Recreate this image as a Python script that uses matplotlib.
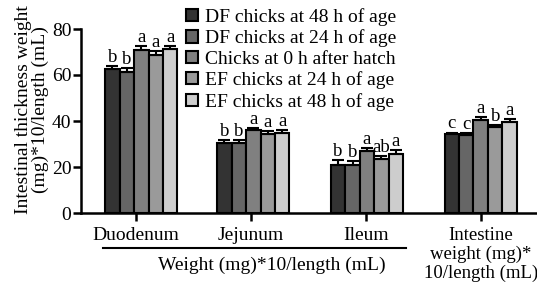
import matplotlib
matplotlib.use("Agg")
import matplotlib.pyplot as plt
import matplotlib.transforms as mtransforms
import numpy as np

plt.rcParams['font.family'] = ['Liberation Serif', 'DejaVu Serif']
plt.rcParams['font.size'] = 14

# data
groups = ['Duodenum', 'Jejunum', 'Ileum', 'Intestine\nweight (mg)*\n10/length (mL)']
series = ['DF chicks at 48 h of age', 'DF chicks at 24 h of age',
          'Chicks at 0 h after hatch', 'EF chicks at 24 h of age',
          'EF chicks at 48 h of age']
df48 = [62.7, 30.6, 21.0, 34.2]
df24 = [61.5, 30.6, 21.0, 34.0]
h0 = [71.0, 36.0, 26.8, 40.6]
ef24 = [68.8, 34.3, 23.5, 37.4]
ef48 = [71.2, 35.0, 25.8, 39.5]
err_df48 = [1.0, 1.3, 2.0, 0.8]
err_df24 = [1.5, 1.3, 1.8, 0.8]
err_h0 = [1.8, 1.0, 1.3, 1.0]
err_ef24 = [1.5, 1.5, 1.5, 1.0]
err_ef48 = [1.5, 1.2, 1.5, 1.5]
letters_df48 = ['b', 'b', 'b', 'c']
letters_df24 = ['b', 'b', 'b', 'c']
letters_h0 = ['a', 'a', 'a', 'a']
letters_ef24 = ['a', 'a', 'ab', 'b']
letters_ef48 = ['a', 'a', 'a', 'a']
bracket_label = 'Weight (mg)*10/length (mL)'
ylabel = 'Intestinal thickness weight\n(mg)*10/length (mL)'

values = [df48, df24, h0, ef24, ef48]
errors = [err_df48, err_df24, err_h0, err_ef24, err_ef48]
letters = [letters_df48, letters_df24, letters_h0, letters_ef24, letters_ef48]
colors = ['#333333', '#666666', '#808080', '#9a9a9a', '#cdcdcd']

fig = plt.figure(figsize=(5.37, 2.85), dpi=100)
ax = fig.add_axes([81 / 537, 1 - 213 / 285, 1 - 81 / 537, (213 - 29) / 285])

x = np.arange(len(groups))
shift = np.array([0.045, 0.02, 0.01, 0.0])
w = 0.126
for i in range(5):
    pos = x + shift + (i - 2) * w
    ax.bar(pos, values[i], w, color=colors[i], edgecolor='black', linewidth=1.5,
           label=series[i], zorder=2)
    ax.errorbar(pos, values[i], yerr=[np.zeros(4), errors[i]], fmt='none',
                ecolor='black', elinewidth=1.5, capsize=4, capthick=1.5, zorder=3)
    for p, v, e, t in zip(pos, values[i], errors[i], letters[i]):
        ax.text(p, v + e, t, ha='center', va='bottom', fontsize=13.5)

ax.set_ylim(0, 80)
ax.set_yticks([0, 20, 40, 60, 80])
ax.set_xlim(-0.48, 3.49)
ax.set_xticks(x)
ax.set_xticklabels(groups, linespacing=1.12)
ax.get_xticklabels()[-1].set_fontsize(13.5)
for s in ['top', 'right']:
    ax.spines[s].set_visible(False)
for s in ['left', 'bottom']:
    ax.spines[s].set_linewidth(1.8)
ax.tick_params(axis='both', width=1.8, length=6, pad=1)
ax.tick_params(axis='x', pad=4)
ax.set_ylabel(ylabel, linespacing=1.0)
ax.yaxis.set_label_coords(-0.07, 0.56)

# bracket under the first three groups
trans = mtransforms.blended_transform_factory(ax.transData, ax.transAxes)
ax.plot([-0.29, 2.35], [-0.19, -0.19], color='black', lw=1.5,
        transform=trans, clip_on=False)
ax.text(1.18, -0.285, bracket_label, transform=trans, ha='center', va='center')

fig.legend(loc='upper left', bbox_to_anchor=(186 / 537, 1 - 8 / 285),
           frameon=False, borderpad=0, borderaxespad=0, handlelength=0.6,
           handleheight=0.6, handletextpad=0.4, labelspacing=0.18)

fig.savefig('out.png', dpi=100)
